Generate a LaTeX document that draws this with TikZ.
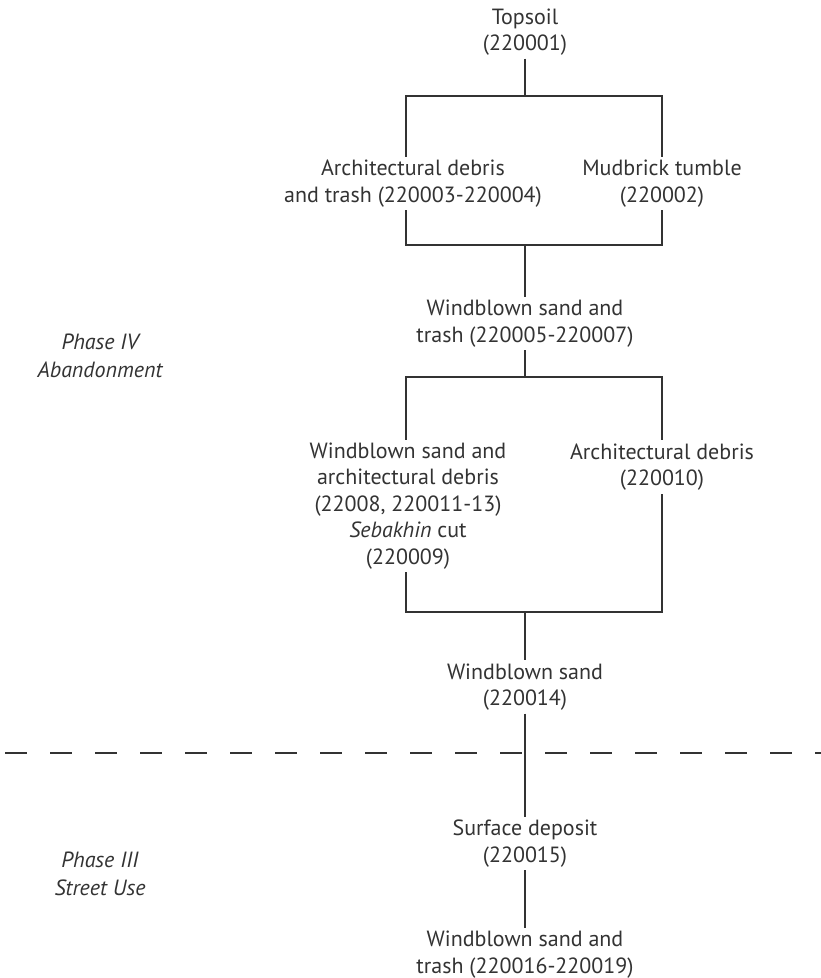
\documentclass[tikz,border=0pt]{standalone}
\usepackage{fontspec}
\setmainfont{PT Sans}
\definecolor{txtc}{HTML}{333333}
\definecolor{linec}{HTML}{333333}
\begin{document}
\begin{tikzpicture}[x=1pt,y=-1pt,
  lbl/.style={align=center, font=\fontsize{22}{26.5}\selectfont, text=txtc, inner sep=3pt, yshift=-2pt},
  phase/.style={align=center, font=\fontsize{22}{27.5}\selectfont\itshape, text=txtc, inner sep=3pt},
  conn/.style={draw=linec, line width=2.2pt}]
\useasboundingbox (0,0) rectangle (821,978);
% nodes
\node[lbl] (top) at (525,30) {Topsoil\\(220001)};
\node[lbl] (arch) at (413,181.5) {Architectural debris\\and trash (220003-220004)};
\node[lbl] (mud) at (662,181.5) {Mudbrick tumble\\(220002)};
\node[lbl] (wb1) at (525,321.5) {Windblown sand and\\trash (220005-220007)};
\node[lbl] (wsad) at (408,504) {Windblown sand and\\architectural debris\\(22008, 220011-13)\\\textit{Sebakhin} cut\\(220009)};
\node[lbl] (arch2) at (662,465) {Architectural debris\\(220010)};
\node[lbl] (wb2) at (525,685) {Windblown sand\\(220014)};
\node[lbl] (sd) at (525,841.5) {Surface deposit\\(220015)};
\node[lbl] (wb3) at (525,952.5) {Windblown sand and\\trash (220016-220019)};
\node[phase] (p4) at (100,356) {Phase IV\\Abandonment};
\node[phase] (p3) at (100,874) {Phase III\\Street Use};
% junctions
\coordinate (j1) at (525,96);  \coordinate (j1l) at (406,96);  \coordinate (j1r) at (662,96);
\coordinate (j2) at (525,245); \coordinate (j2l) at (406,245); \coordinate (j2r) at (662,245);
\coordinate (j3) at (525,377); \coordinate (j3l) at (406,377); \coordinate (j3r) at (662,377);
\coordinate (j4) at (525,612); \coordinate (j4l) at (406,612); \coordinate (j4r) at (662,612);
\coordinate (dl) at (5,753); \coordinate (dr) at (821,753);
% connectors
\draw[conn] (top.south) -- (j1);
\draw[conn] (j1l |- arch.north) -- (j1l) -- (j1r) -- (j1r |- mud.north);
\draw[conn] (j2l |- arch.south) -- (j2l) -- (j2r) -- (j2r |- mud.south);
\draw[conn] (j2) -- (wb1.north);
\draw[conn] (wb1.south) -- (j3);
\draw[conn] (j3l |- wsad.north) -- (j3l) -- (j3r) -- (j3r |- arch2.north);
\draw[conn] (j4l |- wsad.south) -- (j4l) -- (j4r) -- (j4r |- arch2.south);
\draw[conn] (j4) -- (wb2.north);
\draw[conn] (wb2.south) -- (sd.north);
\draw[conn] (sd.south) -- (wb3.north);
\draw[conn, dash pattern=on 22pt off 23pt] (dl) -- (dr);
\end{tikzpicture}
\end{document}
